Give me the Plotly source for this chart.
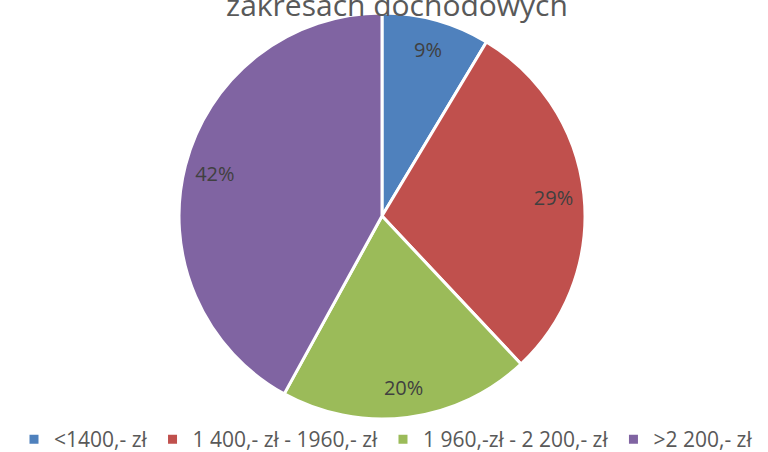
import plotly.graph_objects as go

categories = ["<1400,- zł", "1 400,- zł - 1960,- zł", "1 960,-zł - 2 200,- zł", ">2 200,- zł"]
values = [8.6, 29.4, 20.0, 42.0]
colors = ["#4F81BD", "#C0504D", "#9BBB59", "#8064A2"]
title_text = "zakresach dochodowych"

W, H = 768, 452
FONT = "Open Sans"

# main pie (slices + legend)
fig = go.Figure(go.Pie(
    labels=categories,
    values=values,
    sort=False,
    direction="clockwise",
    rotation=0,
    marker=dict(colors=colors, line=dict(color="white", width=3)),
    textinfo="none",
    hoverinfo="label+percent",
))
# transparent ring of the same data, used only to place the percent labels near the rim
fig.add_trace(go.Pie(
    labels=categories,
    values=values,
    sort=False,
    direction="clockwise",
    rotation=0,
    hole=0.7,
    marker=dict(colors=["rgba(0,0,0,0)"] * len(values), line=dict(width=0)),
    texttemplate="%{percent:.0%}",
    textposition="inside",
    insidetextorientation="horizontal",
    textfont=dict(family=FONT, size=20, color="#404040"),
    showlegend=False,
    hoverinfo="skip",
))

fig.update_layout(
    width=W, height=H,
    paper_bgcolor="white", plot_bgcolor="white",
    margin=dict(l=0, r=4, t=13, b=33, autoexpand=False),
    title=dict(text=title_text, x=397 / W, xanchor="center", xref="container",
               y=1 - 5.5 / H, yanchor="middle", yref="container",
               font=dict(family=FONT, size=30, color="#595959")),
    showlegend=True,
    legend=dict(orientation="h", x=386 / 764, xanchor="center",
                y=-41 / 406, yanchor="bottom",
                font=dict(family=FONT, size=21, color="#595959"),
                traceorder="normal"),
)

fig.write_html("out.html", config={"displayModeBar": False},
               post_script="document.body.style.margin='0';")
